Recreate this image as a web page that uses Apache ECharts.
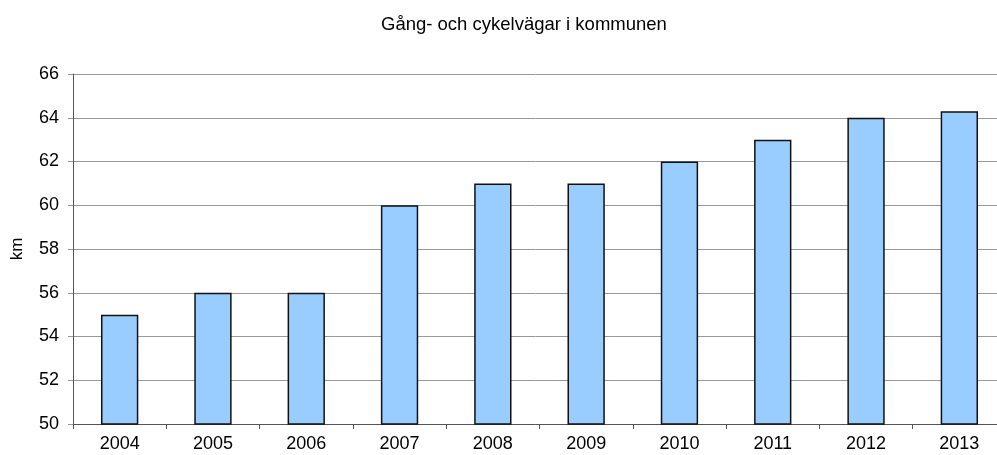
<!DOCTYPE html>
<html>
<head>
<meta charset="utf-8">
<script src="https://cdn.jsdelivr.net/npm/echarts@6/dist/echarts.min.js"></script>
<style>
  html, body { margin: 0; padding: 0; background: #fff; }
  #chart { width: 997px; height: 455px; }
</style>
</head>
<body>
<div id="chart"></div>
<script>
var years = ['2004', '2005', '2006', '2007', '2008', '2009', '2010', '2011', '2012', '2013'];
var km = [55, 56, 56, 60, 61, 61, 62, 63, 64, 64.3];

var myChart = echarts.init(document.getElementById('chart'));
var option = {
    animation: false,
    title: {
        text: 'Gång- och cykelvägar i kommunen',
        left: 376,
        top: 10,
        textStyle: {
            fontFamily: 'Liberation Sans',
            fontWeight: 'normal',
            fontSize: 18.5,
            color: '#000'
        }
    },
    grid: {
        left: 73,
        width: 933,
        top: 74,
        bottom: 31,
        outerBoundsMode: 'none'
    },
    xAxis: {
        type: 'category',
        data: years,
        axisLine: { lineStyle: { color: '#555', width: 1 } },
        axisTick: { show: true, length: 5, lineStyle: { color: '#555' } },
        axisLabel: {
            color: '#000',
            fontFamily: 'Liberation Sans',
            fontSize: 18,
            margin: 11
        }
    },
    yAxis: {
        type: 'value',
        name: 'km',
        nameLocation: 'middle',
        nameGap: 47,
        nameRotate: 90,
        nameTextStyle: {
            color: '#000',
            fontFamily: 'Liberation Sans',
            fontSize: 17
        },
        min: 50,
        max: 66,
        interval: 2,
        axisLine: { show: true, lineStyle: { color: '#555', width: 1 } },
        axisTick: { show: true, length: 5, lineStyle: { color: '#999' } },
        splitLine: { lineStyle: { color: '#999', width: 1 } },
        axisLabel: {
            color: '#000',
            fontFamily: 'Liberation Sans',
            fontSize: 18,
            margin: 14
        }
    },
    series: [
        {
            name: 'km',
            type: 'bar',
            data: km,
            barWidth: '40%',
            itemStyle: {
                color: '#99ccff',
                borderColor: '#111',
                borderWidth: 1.5
            }
        }
    ]
};
myChart.setOption(option);
</script>
</body>
</html>
